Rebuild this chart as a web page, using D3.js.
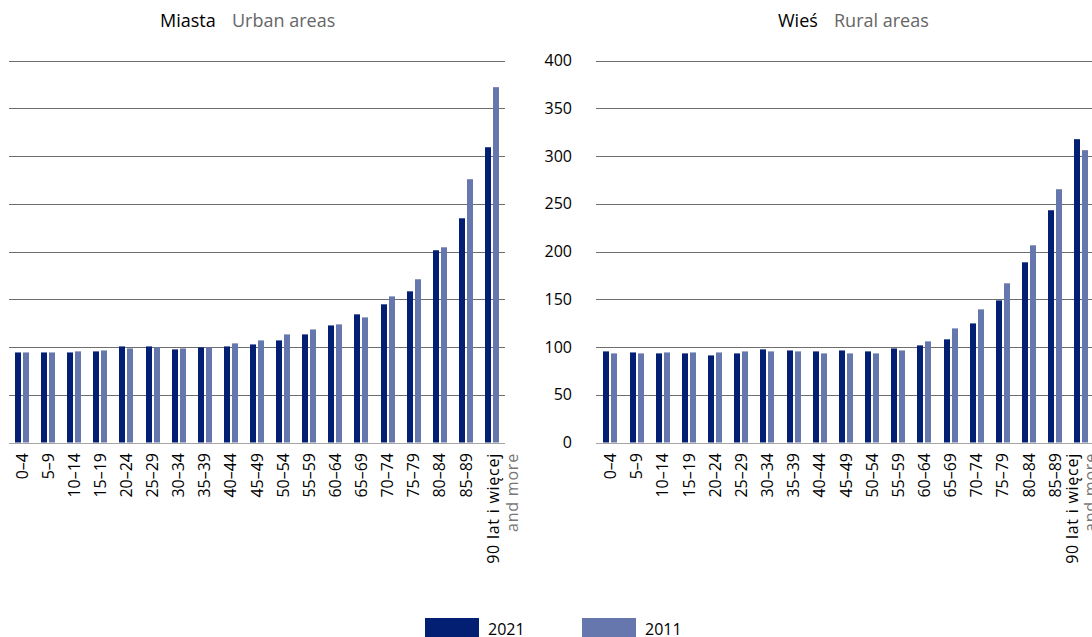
<!DOCTYPE html>
<html>
<head>
<meta charset="utf-8">
<script src="https://cdn.jsdelivr.net/npm/d3@7"></script>
<style>
  html, body { margin: 0; padding: 0; background: #fff; }
  svg { display: block; font-family: "Open Sans", "Noto Sans", sans-serif; }
</style>
</head>
<body>
<svg id="chart" width="1092" height="637"></svg>
<script>
// ---- data ----
const categories = ["0–4","5–9","10–14","15–19","20–24","25–29","30–34","35–39","40–44","45–49",
  "50–54","55–59","60–64","65–69","70–74","75–79","80–84","85–89","90+"];
const lastLabelPL = "90 lat i więcej";
const lastLabelEN = "and more";
const seriesNames = ["2021", "2011"];
const urban2021 = [94.3, 94.3, 94.3, 95.4, 100.6, 100.6, 97.5, 99.6, 100.6, 102.7,
  106.9, 113.2, 122.6, 134.2, 144.7, 158.3, 201.3, 234.8, 309.2];
const urban2011 = [94.3, 94.3, 95.4, 96.4, 98.5, 99.9, 98.5, 99.6, 103.8, 106.9,
  113.2, 118.4, 123.7, 131.0, 153.0, 170.9, 204.4, 275.7, 372.1];
const rural2021 = [95.4, 94.3, 93.3, 93.3, 91.2, 93.3, 97.5, 96.4, 95.4, 96.4,
  95.4, 98.5, 101.7, 108.0, 124.7, 148.8, 188.7, 243.2, 317.6];
const rural2011 = [93.3, 93.3, 94.3, 94.3, 94.3, 95.4, 95.4, 95.4, 93.3, 93.3,
  93.3, 96.4, 105.9, 119.5, 139.4, 166.7, 206.5, 265.2, 306.1];
const yTicks = [0, 50, 100, 150, 200, 250, 300, 350, 400];
const titlesPL = ["Miasta", "Wieś"];
const titlesEN = ["Urban areas", "Rural areas"];

// ---- layout ----
const colors = { "2021": "#021f74", "2011": "#6677ad" };
const svg = d3.select("#chart");
const y = d3.scaleLinear().domain([0, 400]).range([442.5, 60.5]);

const panels = [
  { plPos: 160, enPos: 232, range: [8.9, 505.1], grid: [9, 505], axis: false, l1: 1, l2: 20,
    v2021: urban2021, v2011: urban2011, ti: 0 },
  { plPos: 778, enPos: 834, range: [597.4, 1094.4], grid: [596, 1092], axis: true, l1: -9, l2: 9,
    v2021: rural2021, v2011: rural2011, ti: 1 }
];

panels.forEach(p => {
  const g = svg.append("g");
  const x0 = d3.scaleBand().domain(categories).range(p.range).paddingInner(0).paddingOuter(0);
  const x1 = d3.scaleBand().domain(seriesNames).range([0, 14]).paddingInner(0.25);

  // title
  g.append("text").attr("x", p.plPos).attr("y", 27).attr("font-size", 18)
    .attr("fill", "#000").text(titlesPL[p.ti]);
  g.append("text").attr("x", p.enPos).attr("y", 27).attr("font-size", 18)
    .attr("fill", "#666").text(titlesEN[p.ti]);

  // gridlines
  g.append("g").selectAll("line").data(yTicks).join("line")
    .attr("x1", p.grid[0]).attr("x2", p.grid[1])
    .attr("y1", d => Math.round(y(d)) + 0.5).attr("y2", d => Math.round(y(d)) + 0.5)
    .attr("stroke", d => d === 0 ? "#a6a6a6" : "#6e6e6e").attr("stroke-width", 1);

  // y axis labels
  if (p.axis) {
    g.append("g").selectAll("text").data(yTicks).join("text")
      .attr("x", 572).attr("y", d => y(d)).attr("dy", "0.35em")
      .attr("text-anchor", "end").attr("font-size", 16).attr("fill", "#000")
      .text(d => d);
  }

  // bars
  const rows = categories.map((c, i) => ({ c, vals: [
    { s: "2021", v: p.v2021[i] }, { s: "2011", v: p.v2011[i] } ] }));
  const grp = g.append("g").selectAll("g").data(rows).join("g")
    .attr("transform", d => `translate(${Math.round(x0(d.c) + x0.bandwidth() / 2 - 7)},0)`);
  grp.selectAll("rect").data(d => d.vals).join("rect")
    .attr("x", d => x1(d.s)).attr("width", x1.bandwidth())
    .attr("y", d => y(d.v)).attr("height", d => y(0) - y(d.v))
    .attr("fill", d => colors[d.s]);

  // x labels
  const lab = g.append("g");
  categories.forEach((c, i) => {
    const cx = x0(c) + x0.bandwidth() / 2;
    if (i < categories.length - 1) {
      lab.append("text")
        .attr("transform", `translate(${cx},453) rotate(-90)`)
        .attr("dy", "0.35em").attr("text-anchor", "end")
        .attr("font-size", 16).attr("fill", "#000").text(c);
    } else {
      lab.append("text")
        .attr("transform", `translate(${cx + p.l1},453) rotate(-90)`)
        .attr("dy", "0.35em").attr("text-anchor", "end")
        .attr("font-size", 16).attr("letter-spacing", "0.75px")
        .attr("fill", "#000").text(lastLabelPL);
      lab.append("text")
        .attr("transform", `translate(${cx + p.l2},453) rotate(-90)`)
        .attr("dy", "0.35em").attr("text-anchor", "end")
        .attr("font-size", 16).attr("letter-spacing", "0.8px")
        .attr("fill", "#777").text(lastLabelEN);
    }
  });
});

// legend
const legend = [
  { s: "2021", rx: 425, tx: 488 },
  { s: "2011", rx: 582, tx: 645 }
];
const lg = svg.append("g").selectAll("g").data(legend).join("g");
lg.append("rect").attr("x", d => d.rx).attr("y", 618).attr("width", 54).attr("height", 24)
  .attr("fill", d => colors[d.s]);
lg.append("text").attr("x", d => d.tx).attr("y", 635).attr("font-size", 16)
  .attr("fill", "#000").text(d => d.s);
</script>
</body>
</html>
